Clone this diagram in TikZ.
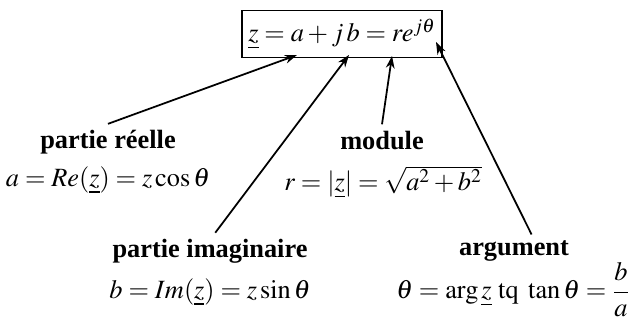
\documentclass[tikz,border=0pt]{standalone}
\usepackage{mathptmx}
\usepackage{fontspec}
\setmainfont{Liberation Serif}
\usetikzlibrary{arrows.meta}
\begin{document}
\begin{tikzpicture}[x=0.02cm, y=-0.02cm,
    every node/.style={font=\fontsize{15}{18}\selectfont},
    titre/.style={font=\fontsize{15}{18}\selectfont\bfseries},
    fleche/.style={-{Stealth[length=7pt, width=5pt]}, line width=1pt}]
  \useasboundingbox (0,0) rectangle (629,320);

  % Central expression
  \node[draw, line width=0.6pt, minimum width=200*0.02cm, minimum height=47*0.02cm] (eq) at (342,34)
    {$\underline{z} = a + j\,b = r e^{j\theta}$};

  % Arrow tips inside the box
  \coordinate (pa) at (297,55);
  \coordinate (pb) at (349,55);
  \coordinate (pr) at (392,56);
  \coordinate (pt) at (436,42);

  % Labels
  \node[titre] (reel) at (108,142) {partie réelle};
  \node (reelf) at (108,180) {$a = Re(\underline{z}) = z\cos\theta$};

  \node[titre, inner sep=1pt] (mod) at (382,141) {module};
  \node (modf) at (383,182) {$r = |\underline{z}| = \sqrt{a^2 + b^2}$};

  \node[titre] (imag) at (210,251) {partie imaginaire};
  \node (imagf) at (210,292) {$b = Im(\underline{z}) = z\sin\theta$};

  \node[titre] (arg) at (514,251) {argument};
  \node (argf) at (513,290) {$\theta = \arg\underline{z}\ \mathrm{tq}\ \tan\theta = \displaystyle\frac{b}{a}$};

  % Connectors
  \draw[fleche] (reel.north) -- (pa);
  \draw[fleche] ([xshift=3pt]imag.north) -- (pb);
  \draw[fleche] ([yshift=3pt]mod.north) -- (pr);
  \draw[fleche] ([xshift=10pt]arg.north) -- (pt);
\end{tikzpicture}
\end{document}
